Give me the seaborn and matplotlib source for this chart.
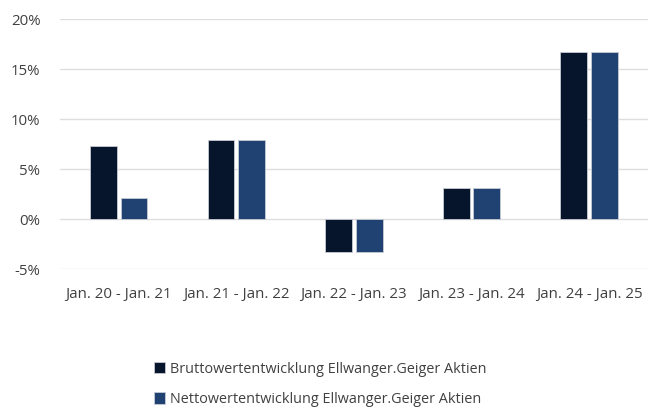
import matplotlib
matplotlib.use("Agg")
import matplotlib.pyplot as plt
import seaborn as sns
import pandas as pd

periods = ["Jan. 20 - Jan. 21", "Jan. 21 - Jan. 22", "Jan. 22 - Jan. 23",
           "Jan. 23 - Jan. 24", "Jan. 24 - Jan. 25"]
brutto = [7.3, 7.9, -3.3, 3.1, 16.7]
netto = [2.1, 7.9, -3.3, 3.1, 16.7]
series = ["Bruttowertentwicklung Ellwanger.Geiger Aktien",
          "Nettowertentwicklung Ellwanger.Geiger Aktien"]
colors = ["#06152b", "#1f4273"]

df = pd.DataFrame({
    "period": periods * 2,
    "value": brutto + netto,
    "series": [series[0]] * len(periods) + [series[1]] * len(periods),
})

sns.set_style("white")
plt.rcParams["font.family"] = ["Open Sans", "DejaVu Sans"]

fig = plt.figure(figsize=(6.51, 4.07), dpi=100)
ax = fig.add_axes([0.092, 0.339, 0.903, 0.614])

sns.barplot(data=df, x="period", y="value", hue="series", palette=colors,
            saturation=1, width=0.52, gap=0.12, edgecolor="#c8ccd4",
            linewidth=0.6, ax=ax, legend=True)

ax.set_ylim(-5, 20)
ax.set_yticks(range(-5, 21, 5))
ax.set_yticklabels([f"{t}%" for t in range(-5, 21, 5)])
ax.yaxis.grid(True, color="#dedede", linewidth=1)
ax.set_axisbelow(True)
for s in ax.spines.values():
    s.set_visible(False)
ax.set_xlabel("")
ax.set_ylabel("")
ax.tick_params(axis="both", length=0, labelsize=10.8, colors="#404040")
ax.tick_params(axis="x", pad=13)
ax.tick_params(axis="y", pad=14)

h, l = ax.get_legend_handles_labels()
ax.get_legend().remove()
fig.legend(h, l, loc="lower left", bbox_to_anchor=(0.216, -0.032), frameon=False,
           ncol=1, fontsize=10.4, labelspacing=1.05, handlelength=0.8,
           handleheight=0.8, handletextpad=0.3, labelcolor="#404040")

fig.savefig("out.png", dpi=100)
